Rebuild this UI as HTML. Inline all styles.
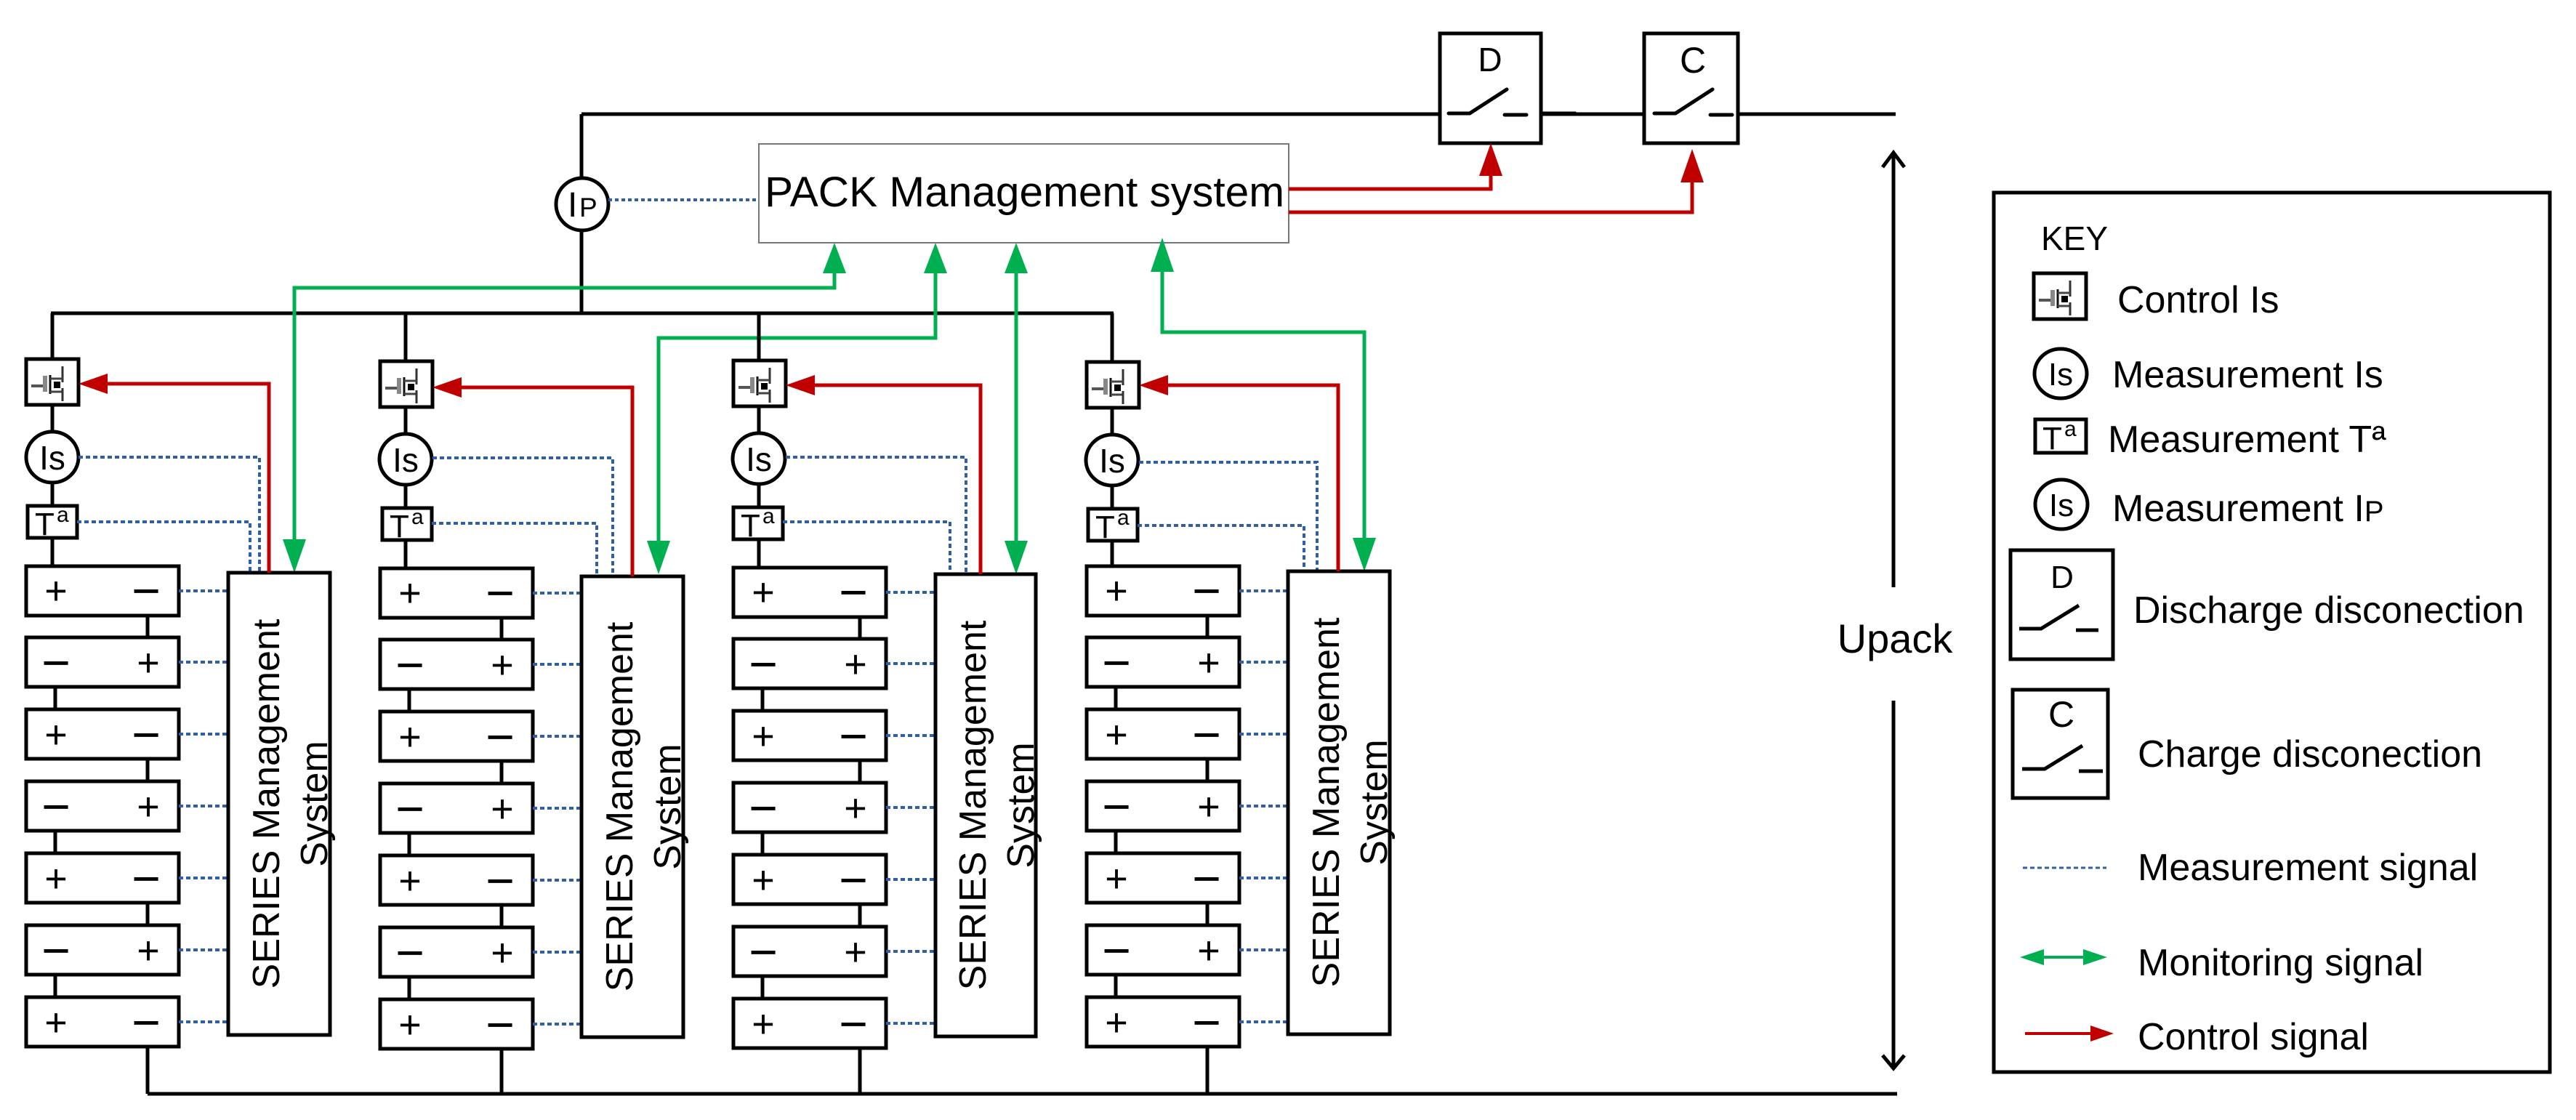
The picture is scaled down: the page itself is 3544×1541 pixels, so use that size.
<!DOCTYPE html>
<html><head><meta charset="utf-8"><style>
html,body{margin:0;padding:0;background:#fff;}
svg{display:block;}
text{font-family:"Liberation Sans",Arial,sans-serif;fill:#000;}
</style></head><body>
<svg width="3544" height="1541" viewBox="0 0 3544 1541" xmlns="http://www.w3.org/2000/svg">
<defs>
<g id="fet">
<rect x="0" y="0" width="72" height="63" fill="#fff" stroke="#000" stroke-width="5"/>
<line x1="7" y1="37" x2="26" y2="37" stroke="#555" stroke-width="4"/>
<rect x="23" y="23" width="6" height="22" fill="#888"/>
<line x1="33" y1="22" x2="33" y2="48" stroke="#111" stroke-width="3"/>
<line x1="50" y1="10" x2="50" y2="32" stroke="#333" stroke-width="3"/>
<line x1="33" y1="27" x2="50" y2="27" stroke="#444" stroke-width="3"/>
<line x1="33" y1="45" x2="50" y2="45" stroke="#444" stroke-width="3"/>
<line x1="50" y1="40" x2="50" y2="58" stroke="#333" stroke-width="3"/>
<rect x="38" y="31" width="9" height="9" fill="#000"/>
</g>
<g id="cellbox">
<rect x="0" y="0" width="210" height="68" fill="#fff" stroke="#000" stroke-width="5"/>
</g>
</defs>

<g stroke="#000" stroke-width="5" fill="none">
<line x1="800" y1="157" x2="1982" y2="157"/>
<line x1="2120" y1="157" x2="2262" y2="157"/>
<line x1="2391" y1="157" x2="2608" y2="157"/>
<line x1="800" y1="157" x2="800" y2="245"/>
<line x1="800" y1="317" x2="800" y2="431"/>
<line x1="70" y1="431" x2="1532" y2="431"/>
<line x1="203" y1="1505" x2="2610" y2="1505"/>
</g>

<ellipse cx="801" cy="281" rx="36" ry="36" fill="#fff" stroke="#000" stroke-width="5"/>
<text x="781" y="298" font-size="48">I</text><text x="797" y="298" font-size="37">P</text>
<line x1="837" y1="275" x2="1044" y2="275" stroke="#2e5fa8" stroke-width="4" stroke-dasharray="5,4"/>

<rect x="1044" y="198" width="729" height="136" fill="#fff" stroke="#777" stroke-width="2"/>
<text x="1052" y="284" font-size="58" textLength="715" lengthAdjust="spacingAndGlyphs">PACK Management system</text>

<g stroke="#000" stroke-width="5" fill="#fff">
<rect x="1981" y="46" width="139" height="151"/>
<rect x="2262" y="46" width="129" height="151"/>
</g>
<g stroke="#000" stroke-width="5" fill="none" stroke-linecap="round">
<polyline points="1993,156 2022,156 2073,123"/>
<line x1="2070" y1="158" x2="2100" y2="158"/>
<polyline points="2276,156 2305,156 2356,123"/>
<line x1="2353" y1="158" x2="2383" y2="158"/>
<line x1="2120" y1="156" x2="2167" y2="156"/>
</g>
<text x="2050" y="98" font-size="46" text-anchor="middle">D</text>
<text x="2329" y="100" font-size="50" text-anchor="middle">C</text>

<g stroke="#c00000" stroke-width="5" fill="none">
<polyline points="1773,260 2051,260 2051,238"/>
<polyline points="1773,292 2328,292 2328,248"/>
</g>
<polygon points="2051,197 2035,242 2067,242" fill="#c00000"/>
<polygon points="2328,205 2312,251 2344,251" fill="#c00000"/>

<g stroke="#000" stroke-width="5" fill="none">
<line x1="2605" y1="212" x2="2605" y2="808"/>
<polyline points="2590,230 2605,210 2620,230"/>
<line x1="2605" y1="964" x2="2605" y2="1468"/>
<polyline points="2590,1452 2605,1470 2620,1452"/>
</g>
<text x="2607" y="898" font-size="56" text-anchor="middle">Upack</text>

<g stroke="#00b050" stroke-width="5" fill="none">
<polyline points="1148,370 1148,396 405,396 405,745"/>
<polyline points="1287,370 1287,465 906,465 906,745"/>
<polyline points="1398,370 1398,745"/>
<polyline points="1599,370 1599,457 1877,457 1877,742"/>
</g>
<g fill="#00b050">
<polygon points="1148,334 1132,376 1164,376"/>
<polygon points="1287,334 1271,376 1303,376"/>
<polygon points="1398,334 1382,376 1414,376"/>
<polygon points="1599,327 1583,374 1615,374"/>
<polygon points="405,788 389,742 421,742"/>
<polygon points="906,790 890,744 922,744"/>
<polygon points="1398,790 1382,744 1414,744"/>
<polygon points="1877,786 1861,740 1893,740"/>
</g>

<!-- COLUMN 1 -->
<g transform="translate(36,0)">
<g stroke="#000" stroke-width="5" fill="none">
<line x1="36" y1="431" x2="36" y2="494"/>
<line x1="36" y1="556" x2="36" y2="594"/>
<line x1="36" y1="664" x2="36" y2="696"/>
<line x1="36" y1="740" x2="36" y2="779"/>
<line x1="167" y1="847" x2="167" y2="877"/>
<line x1="40" y1="946" x2="40" y2="976"/>
<line x1="167" y1="1045" x2="167" y2="1075"/>
<line x1="40" y1="1144" x2="40" y2="1174"/>
<line x1="167" y1="1243" x2="167" y2="1273"/>
<line x1="40" y1="1342" x2="40" y2="1372"/>
<line x1="167" y1="1441" x2="167" y2="1505"/>
</g>
<use href="#fet" x="0" y="494"/>
<ellipse cx="36" cy="629" rx="36" ry="35" fill="#fff" stroke="#000" stroke-width="5"/>
<text x="36" y="646" font-size="46" text-anchor="middle">Is</text>
<rect x="2" y="696" width="68" height="44" fill="#fff" stroke="#000" stroke-width="5"/>
<text x="12" y="736" font-size="44">T</text><text x="42" y="718" font-size="30">a</text>
<use href="#cellbox" x="0" y="779"/><use href="#cellbox" x="0" y="877"/><use href="#cellbox" x="0" y="976"/><use href="#cellbox" x="0" y="1075"/><use href="#cellbox" x="0" y="1174"/><use href="#cellbox" x="0" y="1273"/><use href="#cellbox" x="0" y="1372"/>
<g font-size="54" text-anchor="middle">
<text x="41" y="831">+</text><text x="165" y="836" font-size="68">−</text>
<text x="41" y="935" font-size="68">−</text><text x="168" y="930">+</text>
<text x="41" y="1029">+</text><text x="165" y="1034" font-size="68">−</text>
<text x="41" y="1133" font-size="68">−</text><text x="168" y="1128">+</text>
<text x="41" y="1227">+</text><text x="165" y="1232" font-size="68">−</text>
<text x="41" y="1331" font-size="68">−</text><text x="168" y="1326">+</text>
<text x="41" y="1425">+</text><text x="165" y="1430" font-size="68">−</text>
</g>
<g stroke="#2e5fa8" stroke-width="4" fill="none" stroke-dasharray="6,4">
<line x1="210" y1="813" x2="278" y2="813"/><line x1="210" y1="911" x2="278" y2="911"/><line x1="210" y1="1010" x2="278" y2="1010"/><line x1="210" y1="1109" x2="278" y2="1109"/><line x1="210" y1="1208" x2="278" y2="1208"/><line x1="210" y1="1307" x2="278" y2="1307"/><line x1="210" y1="1406" x2="278" y2="1406"/>
<polyline points="72,629 321,629 321,788"/>
<polyline points="70,718 308,718 308,788"/>
</g>
<rect x="278" y="788" width="140" height="636" fill="#fff" stroke="#000" stroke-width="5"/>
<g transform="translate(348,1106) rotate(-90)" font-size="52" text-anchor="middle"><text x="0" y="0">SERIES Management</text><text x="0" y="66">System</text></g>
<polyline points="334,788 334,528 80,528" stroke="#c00000" stroke-width="5" fill="none"/>
<polygon points="72,528 112,514 112,542" fill="#c00000"/>
</g>

<!-- COLUMN 2 -->
<g transform="translate(523,3)">
<g stroke="#000" stroke-width="5" fill="none">
<line x1="35" y1="428" x2="35" y2="494"/>
<line x1="35" y1="556" x2="35" y2="594"/>
<line x1="35" y1="664" x2="35" y2="696"/>
<line x1="35" y1="740" x2="35" y2="779"/>
<line x1="167" y1="847" x2="167" y2="877"/>
<line x1="40" y1="946" x2="40" y2="976"/>
<line x1="167" y1="1045" x2="167" y2="1075"/>
<line x1="40" y1="1144" x2="40" y2="1174"/>
<line x1="167" y1="1243" x2="167" y2="1273"/>
<line x1="40" y1="1342" x2="40" y2="1372"/>
<line x1="167" y1="1441" x2="167" y2="1502"/>
</g>
<use href="#fet" x="0" y="494"/>
<ellipse cx="35" cy="629" rx="36" ry="35" fill="#fff" stroke="#000" stroke-width="5"/>
<text x="35" y="646" font-size="46" text-anchor="middle">Is</text>
<rect x="3" y="696" width="68" height="44" fill="#fff" stroke="#000" stroke-width="5"/>
<text x="13" y="736" font-size="44">T</text><text x="43" y="718" font-size="30">a</text>
<use href="#cellbox" x="0" y="779"/><use href="#cellbox" x="0" y="877"/><use href="#cellbox" x="0" y="976"/><use href="#cellbox" x="0" y="1075"/><use href="#cellbox" x="0" y="1174"/><use href="#cellbox" x="0" y="1273"/><use href="#cellbox" x="0" y="1372"/>
<g font-size="54" text-anchor="middle">
<text x="41" y="831">+</text><text x="165" y="836" font-size="68">−</text>
<text x="41" y="935" font-size="68">−</text><text x="168" y="930">+</text>
<text x="41" y="1029">+</text><text x="165" y="1034" font-size="68">−</text>
<text x="41" y="1133" font-size="68">−</text><text x="168" y="1128">+</text>
<text x="41" y="1227">+</text><text x="165" y="1232" font-size="68">−</text>
<text x="41" y="1331" font-size="68">−</text><text x="168" y="1326">+</text>
<text x="41" y="1425">+</text><text x="165" y="1430" font-size="68">−</text>
</g>
<g stroke="#2e5fa8" stroke-width="4" fill="none" stroke-dasharray="6,4">
<line x1="210" y1="813" x2="277" y2="813"/><line x1="210" y1="911" x2="277" y2="911"/><line x1="210" y1="1010" x2="277" y2="1010"/><line x1="210" y1="1109" x2="277" y2="1109"/><line x1="210" y1="1208" x2="277" y2="1208"/><line x1="210" y1="1307" x2="277" y2="1307"/><line x1="210" y1="1406" x2="277" y2="1406"/>
<polyline points="72,627 320,627 320,790"/>
<polyline points="71,717 298,717 298,790"/>
</g>
<rect x="277" y="790" width="140" height="634" fill="#fff" stroke="#000" stroke-width="5"/>
<g transform="translate(347,1107) rotate(-90)" font-size="52" text-anchor="middle"><text x="0" y="0">SERIES Management</text><text x="0" y="66">System</text></g>
<polyline points="347,790 347,530 80,530" stroke="#c00000" stroke-width="5" fill="none"/>
<polygon points="72,530 112,516 112,544" fill="#c00000"/>
</g>

<!-- COLUMN 3 -->
<g transform="translate(1009,2)">
<g stroke="#000" stroke-width="5" fill="none">
<line x1="35" y1="429" x2="35" y2="494"/>
<line x1="35" y1="556" x2="35" y2="594"/>
<line x1="35" y1="664" x2="35" y2="696"/>
<line x1="35" y1="740" x2="35" y2="779"/>
<line x1="174" y1="847" x2="174" y2="877"/>
<line x1="40" y1="946" x2="40" y2="976"/>
<line x1="174" y1="1045" x2="174" y2="1075"/>
<line x1="40" y1="1144" x2="40" y2="1174"/>
<line x1="174" y1="1243" x2="174" y2="1273"/>
<line x1="40" y1="1342" x2="40" y2="1372"/>
<line x1="174" y1="1441" x2="174" y2="1503"/>
</g>
<use href="#fet" x="0" y="494"/>
<ellipse cx="35" cy="629" rx="36" ry="35" fill="#fff" stroke="#000" stroke-width="5"/>
<text x="35" y="646" font-size="46" text-anchor="middle">Is</text>
<rect x="0" y="696" width="68" height="44" fill="#fff" stroke="#000" stroke-width="5"/>
<text x="10" y="736" font-size="44">T</text><text x="40" y="718" font-size="30">a</text>
<use href="#cellbox" x="0" y="779"/><use href="#cellbox" x="0" y="877"/><use href="#cellbox" x="0" y="976"/><use href="#cellbox" x="0" y="1075"/><use href="#cellbox" x="0" y="1174"/><use href="#cellbox" x="0" y="1273"/><use href="#cellbox" x="0" y="1372"/>
<g font-size="54" text-anchor="middle">
<text x="41" y="831">+</text><text x="165" y="836" font-size="68">−</text>
<text x="41" y="935" font-size="68">−</text><text x="168" y="930">+</text>
<text x="41" y="1029">+</text><text x="165" y="1034" font-size="68">−</text>
<text x="41" y="1133" font-size="68">−</text><text x="168" y="1128">+</text>
<text x="41" y="1227">+</text><text x="165" y="1232" font-size="68">−</text>
<text x="41" y="1331" font-size="68">−</text><text x="168" y="1326">+</text>
<text x="41" y="1425">+</text><text x="165" y="1430" font-size="68">−</text>
</g>
<g stroke="#2e5fa8" stroke-width="4" fill="none" stroke-dasharray="6,4">
<line x1="210" y1="813" x2="278" y2="813"/><line x1="210" y1="911" x2="278" y2="911"/><line x1="210" y1="1010" x2="278" y2="1010"/><line x1="210" y1="1109" x2="278" y2="1109"/><line x1="210" y1="1208" x2="278" y2="1208"/><line x1="210" y1="1307" x2="278" y2="1307"/><line x1="210" y1="1406" x2="278" y2="1406"/>
<polyline points="72,627 320,627 320,788"/>
<polyline points="68,716 298,716 298,788"/>
</g>
<rect x="278" y="788" width="138" height="636" fill="#fff" stroke="#000" stroke-width="5"/>
<g transform="translate(347,1106) rotate(-90)" font-size="52" text-anchor="middle"><text x="0" y="0">SERIES Management</text><text x="0" y="66">System</text></g>
<polyline points="340,788 340,528 80,528" stroke="#c00000" stroke-width="5" fill="none"/>
<polygon points="72,528 112,514 112,542" fill="#c00000"/>
</g>

<!-- COLUMN 4 -->
<g transform="translate(1495,0)">
<g stroke="#000" stroke-width="5" fill="none">
<line x1="35" y1="431" x2="35" y2="498"/>
<line x1="35" y1="560" x2="35" y2="598"/>
<line x1="35" y1="668" x2="35" y2="700"/>
<line x1="35" y1="744" x2="35" y2="779"/>
<line x1="166" y1="847" x2="166" y2="877"/>
<line x1="40" y1="946" x2="40" y2="976"/>
<line x1="166" y1="1045" x2="166" y2="1075"/>
<line x1="40" y1="1144" x2="40" y2="1174"/>
<line x1="166" y1="1243" x2="166" y2="1273"/>
<line x1="40" y1="1342" x2="40" y2="1372"/>
<line x1="166" y1="1441" x2="166" y2="1505"/>
</g>
<use href="#fet" x="0" y="498"/>
<ellipse cx="35" cy="633" rx="36" ry="35" fill="#fff" stroke="#000" stroke-width="5"/>
<text x="35" y="650" font-size="46" text-anchor="middle">Is</text>
<rect x="2" y="700" width="68" height="44" fill="#fff" stroke="#000" stroke-width="5"/>
<text x="12" y="740" font-size="44">T</text><text x="42" y="722" font-size="30">a</text>
<use href="#cellbox" x="0" y="779"/><use href="#cellbox" x="0" y="877"/><use href="#cellbox" x="0" y="976"/><use href="#cellbox" x="0" y="1075"/><use href="#cellbox" x="0" y="1174"/><use href="#cellbox" x="0" y="1273"/><use href="#cellbox" x="0" y="1372"/>
<g font-size="54" text-anchor="middle">
<text x="41" y="831">+</text><text x="165" y="836" font-size="68">−</text>
<text x="41" y="935" font-size="68">−</text><text x="168" y="930">+</text>
<text x="41" y="1029">+</text><text x="165" y="1034" font-size="68">−</text>
<text x="41" y="1133" font-size="68">−</text><text x="168" y="1128">+</text>
<text x="41" y="1227">+</text><text x="165" y="1232" font-size="68">−</text>
<text x="41" y="1331" font-size="68">−</text><text x="168" y="1326">+</text>
<text x="41" y="1425">+</text><text x="165" y="1430" font-size="68">−</text>
</g>
<g stroke="#2e5fa8" stroke-width="4" fill="none" stroke-dasharray="6,4">
<line x1="210" y1="813" x2="277" y2="813"/><line x1="210" y1="911" x2="277" y2="911"/><line x1="210" y1="1010" x2="277" y2="1010"/><line x1="210" y1="1109" x2="277" y2="1109"/><line x1="210" y1="1208" x2="277" y2="1208"/><line x1="210" y1="1307" x2="277" y2="1307"/><line x1="210" y1="1406" x2="277" y2="1406"/>
<polyline points="72,636 317,636 317,786"/>
<polyline points="70,723 299,723 299,786"/>
</g>
<rect x="277" y="786" width="140" height="637" fill="#fff" stroke="#000" stroke-width="5"/>
<g transform="translate(347,1104) rotate(-90)" font-size="52" text-anchor="middle"><text x="0" y="0">SERIES Management</text><text x="0" y="66">System</text></g>
<polyline points="346,786 346,530 80,530" stroke="#c00000" stroke-width="5" fill="none"/>
<polygon points="72,530 112,516 112,544" fill="#c00000"/>
</g>

<!-- LEGEND -->
<rect x="2743" y="265" width="765" height="1210" fill="#fff" stroke="#000" stroke-width="5"/>
<g font-size="52">
<text x="2808" y="344" font-size="46">KEY</text>
<text x="2913" y="430">Control Is</text>
<text x="2906" y="533">Measurement Is</text>
<text x="2900" y="622">Measurement Tª</text>
<text x="2906" y="717">Measurement I<tspan font-size="40">P</tspan></text>
<text x="2935" y="857">Discharge disconection</text>
<text x="2941" y="1055">Charge disconection</text>
<text x="2941" y="1211">Measurement signal</text>
<text x="2941" y="1342">Monitoring signal</text>
<text x="2941" y="1444">Control signal</text>
</g>
<use href="#fet" x="2798" y="376"/>
<ellipse cx="2835" cy="514" rx="36" ry="34" fill="#fff" stroke="#000" stroke-width="5"/>
<text x="2835" y="530" font-size="44" text-anchor="middle">Is</text>
<rect x="2800" y="577" width="70" height="46" fill="#fff" stroke="#000" stroke-width="5"/>
<text x="2810" y="618" font-size="44">T</text><text x="2840" y="600" font-size="30">a</text>
<ellipse cx="2836" cy="694" rx="36" ry="34" fill="#fff" stroke="#000" stroke-width="5"/>
<text x="2836" y="710" font-size="44" text-anchor="middle">Is</text>
<rect x="2766" y="757" width="141" height="150" fill="#fff" stroke="#000" stroke-width="5"/>
<text x="2837" y="809" font-size="44" text-anchor="middle">D</text>
<g stroke="#000" stroke-width="5" fill="none">
<polyline points="2778,865 2808,865 2860,833"/>
<line x1="2856" y1="867" x2="2887" y2="867"/>
</g>
<rect x="2769" y="949" width="131" height="149" fill="#fff" stroke="#000" stroke-width="5"/>
<text x="2836" y="1000" font-size="50" text-anchor="middle">C</text>
<g stroke="#000" stroke-width="5" fill="none">
<polyline points="2782,1058 2813,1058 2865,1026"/>
<line x1="2860" y1="1061" x2="2893" y2="1061"/>
</g>
<line x1="2783" y1="1194" x2="2898" y2="1194" stroke="#2e5fa8" stroke-width="3" stroke-dasharray="6,4"/>
<line x1="2795" y1="1317" x2="2885" y2="1317" stroke="#00b050" stroke-width="4"/>
<polygon points="2779,1317 2812,1306 2812,1328" fill="#00b050"/>
<polygon points="2899,1317 2866,1306 2866,1328" fill="#00b050"/>
<line x1="2786" y1="1422" x2="2880" y2="1422" stroke="#c00000" stroke-width="4"/>
<polygon points="2908,1422 2876,1411 2876,1433" fill="#c00000"/>
</svg>
</body></html>
